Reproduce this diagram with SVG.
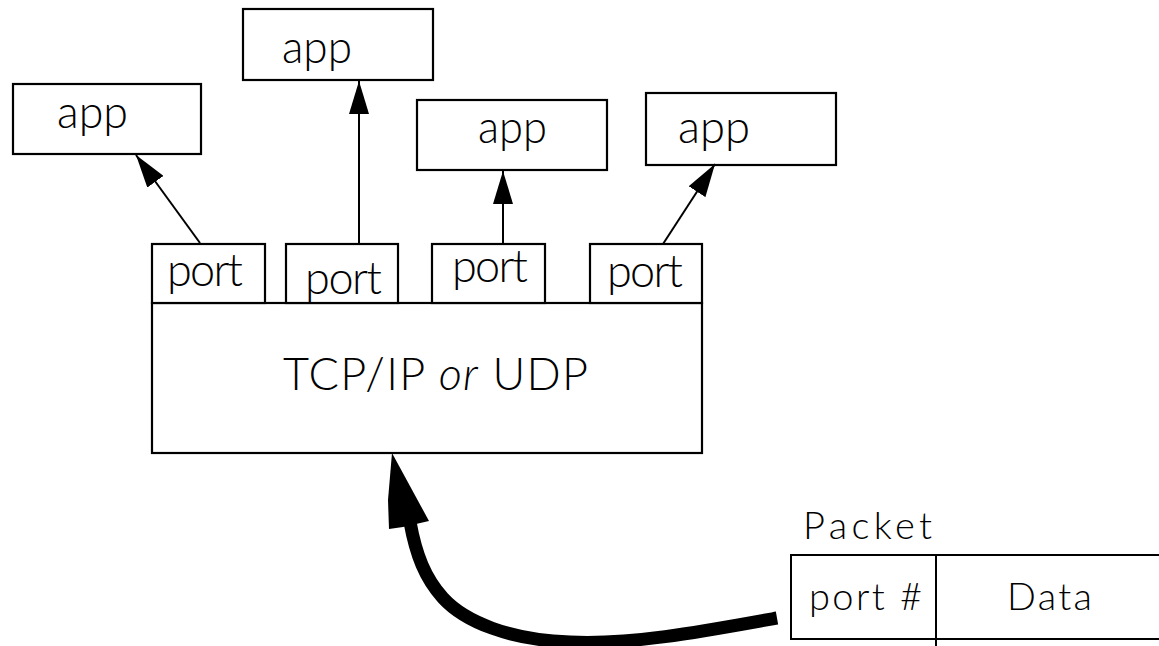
<svg xmlns="http://www.w3.org/2000/svg" width="1159" height="646" viewBox="0 0 1159 646">
<defs>
<marker id="ah" markerUnits="userSpaceOnUse" viewBox="0 0 33 20" refX="33" refY="10" markerWidth="33" markerHeight="20" orient="auto">
<path d="M0,0 L33,10 L0,20 Z" fill="#000"/>
</marker>
</defs>
<style>
.box{fill:#fff;stroke:#000;stroke-width:2.2}
.t{font-family:"Lato","Liberation Sans",Arial,sans-serif;font-weight:300;fill:#000;font-size:45px}
.s{font-family:"Lato","Liberation Sans",Arial,sans-serif;font-weight:300;fill:#000;font-size:38px}
.ln{stroke:#000;stroke-width:2;fill:none}
</style>
<rect width="1159" height="646" fill="#fff"/>
<g id="app1"><rect class="box" x="13" y="84" width="188" height="70"/><text class="t" x="57" y="128" textLength="71" lengthAdjust="spacingAndGlyphs">app</text></g>
<g id="app2"><rect class="box" x="243" y="9" width="190" height="71"/><text class="t" x="282" y="63" textLength="70" lengthAdjust="spacingAndGlyphs">app</text></g>
<g id="app3"><rect class="box" x="417" y="100" width="190" height="70"/><text class="t" x="478" y="143" textLength="69" lengthAdjust="spacingAndGlyphs">app</text></g>
<g id="app4"><rect class="box" x="646" y="93" width="190" height="72"/><text class="t" x="678" y="143" textLength="72" lengthAdjust="spacingAndGlyphs">app</text></g>
<g id="tcp"><rect class="box" x="152" y="303" width="550" height="150"/><text class="t" x="283" y="390" textLength="305">TCP/IP <tspan font-style="italic">or</tspan> UDP</text></g>
<g id="port1"><rect class="box" x="152" y="244" width="113" height="59"/><text class="t" x="167" y="286" textLength="76">port</text></g>
<g id="port2"><rect class="box" x="286" y="244" width="112" height="59"/><text class="t" x="305" y="294" textLength="77">port</text></g>
<g id="port3"><rect class="box" x="432" y="244" width="113" height="59"/><text class="t" x="452" y="282" textLength="76">port</text></g>
<g id="port4"><rect class="box" x="590" y="244" width="112" height="59"/><text class="t" x="607" y="287" textLength="76">port</text></g>
<g id="packet">
<text class="s" x="803" y="539" textLength="129">Packet</text>
<path class="ln" d="M1160,555 L791,555 L791,639 L1160,639 M936,555 L936,646"/>
<text class="s" x="809" y="610" textLength="113">port #</text>
<text class="s" x="1007" y="610" textLength="85">Data</text>
</g>
<g id="connectors">
<line class="ln" x1="200" y1="243" x2="136" y2="155" marker-end="url(#ah)"/>
<line class="ln" x1="359" y1="244" x2="359" y2="81" marker-end="url(#ah)"/>
<line class="ln" x1="503" y1="244" x2="503" y2="171" marker-end="url(#ah)"/>
<line class="ln" x1="663" y1="244" x2="715" y2="164" marker-end="url(#ah)"/>
<path d="M777,618 C700,632 630,645 570,642 C510,640 465,622 443,598 C425,578 416,555 410,522" fill="none" stroke="#000" stroke-width="13"/>
<polygon points="392,453 429,521 403,527 389,529 388,500" fill="#000"/>
</g>
</svg>
